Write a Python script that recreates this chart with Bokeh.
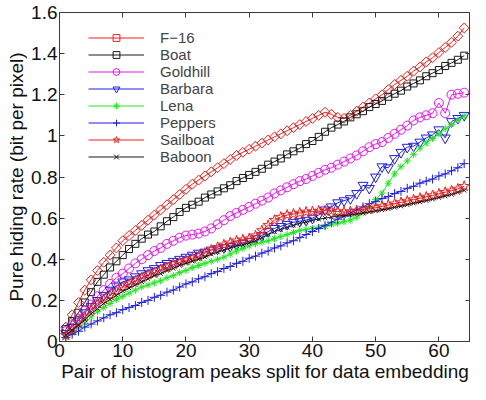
from bokeh.plotting import figure
from bokeh.models import Range1d, LinearAxis, FixedTicker, Legend, LegendItem, CustomJSTickFormatter
from bokeh.embed import file_html
from bokeh.resources import INLINE

# ---- data ----
pairs = list(range(1, 65))

f16 = [0.07, 0.13, 0.19, 0.25, 0.30, 0.345, 0.385, 0.42, 0.455, 0.49,
       0.515, 0.54, 0.565, 0.59, 0.615, 0.64, 0.665, 0.69, 0.715, 0.74,
       0.765, 0.785, 0.805, 0.825, 0.845, 0.865, 0.885, 0.905, 0.92, 0.935,
       0.95, 0.965, 0.98, 0.995, 1.01, 1.025, 1.04, 1.055, 1.07, 1.085,
       1.10, 1.115, 1.105, 1.09, 1.085, 1.10, 1.12, 1.14, 1.16, 1.18,
       1.20, 1.225, 1.25, 1.27, 1.29, 1.315, 1.335, 1.36, 1.38, 1.405,
       1.43, 1.455, 1.485, 1.525]
boat = [0.06, 0.10, 0.14, 0.19, 0.24, 0.29, 0.325, 0.36, 0.39, 0.42,
        0.45, 0.475, 0.50, 0.52, 0.535, 0.56, 0.585, 0.605, 0.63, 0.65,
        0.665, 0.68, 0.70, 0.715, 0.73, 0.745, 0.76, 0.78, 0.795, 0.81,
        0.825, 0.84, 0.86, 0.875, 0.89, 0.91, 0.925, 0.94, 0.96, 0.975,
        0.995, 1.02, 1.04, 1.055, 1.07, 1.09, 1.105, 1.12, 1.14, 1.155,
        1.17, 1.19, 1.205, 1.22, 1.24, 1.255, 1.27, 1.29, 1.305, 1.32,
        1.34, 1.355, 1.37, 1.39]
goldhill = [0.05, 0.08, 0.11, 0.15, 0.18, 0.22, 0.25, 0.28, 0.31, 0.33,
            0.355, 0.38, 0.40, 0.42, 0.44, 0.455, 0.475, 0.49, 0.505, 0.515,
            0.52, 0.525, 0.535, 0.55, 0.57, 0.59, 0.61, 0.625, 0.64, 0.655,
            0.67, 0.685, 0.70, 0.72, 0.735, 0.75, 0.765, 0.78, 0.79, 0.805,
            0.82, 0.835, 0.845, 0.86, 0.875, 0.89, 0.905, 0.925, 0.945, 0.96,
            0.97, 0.99, 1.01, 1.03, 1.05, 1.075, 1.09, 1.10, 1.11, 1.16,
            1.11, 1.20, 1.205, 1.21]
barbara = [0.04, 0.07, 0.10, 0.14, 0.17, 0.20, 0.225, 0.25, 0.27, 0.29,
           0.30, 0.315, 0.33, 0.345, 0.355, 0.37, 0.38, 0.39, 0.40, 0.41,
           0.42, 0.43, 0.435, 0.445, 0.45, 0.457, 0.463, 0.47, 0.478, 0.487,
           0.50, 0.515, 0.535, 0.55, 0.56, 0.57, 0.58, 0.585, 0.59, 0.60,
           0.615, 0.64, 0.655, 0.675, 0.685, 0.695, 0.72, 0.76, 0.745, 0.80,
           0.85, 0.845, 0.89, 0.92, 0.945, 0.95, 0.97, 0.99, 1.005, 1.03,
           0.99, 1.07, 1.085, 1.10]
lena = [0.02, 0.04, 0.065, 0.09, 0.12, 0.145, 0.165, 0.185, 0.205, 0.22,
        0.235, 0.25, 0.265, 0.275, 0.285, 0.295, 0.31, 0.32, 0.335, 0.345,
        0.36, 0.37, 0.38, 0.39, 0.40, 0.41, 0.425, 0.44, 0.452, 0.465,
        0.475, 0.483, 0.49, 0.50, 0.51, 0.52, 0.53, 0.54, 0.545, 0.55,
        0.555, 0.56, 0.57, 0.575, 0.582, 0.59, 0.605, 0.625, 0.655, 0.69,
        0.722, 0.77, 0.815, 0.85, 0.878, 0.91, 0.94, 0.965, 0.988, 1.01,
        1.035, 1.055, 1.077, 1.097]
peppers = [0.02, 0.035, 0.05, 0.07, 0.085, 0.10, 0.115, 0.13, 0.14, 0.155,
           0.165, 0.175, 0.19, 0.20, 0.215, 0.225, 0.24, 0.25, 0.265, 0.28,
           0.29, 0.305, 0.315, 0.33, 0.34, 0.355, 0.365, 0.38, 0.39, 0.405,
           0.415, 0.43, 0.44, 0.455, 0.465, 0.48, 0.49, 0.505, 0.52, 0.535,
           0.55, 0.565, 0.58, 0.595, 0.61, 0.625, 0.64, 0.655, 0.67, 0.68,
           0.695, 0.705, 0.72, 0.73, 0.745, 0.755, 0.77, 0.78, 0.79, 0.805,
           0.815, 0.83, 0.845, 0.865]
sailboat = [0.03, 0.06, 0.09, 0.12, 0.155, 0.185, 0.205, 0.225, 0.245, 0.265,
            0.28, 0.295, 0.31, 0.325, 0.335, 0.35, 0.36, 0.375, 0.385, 0.395,
            0.405, 0.415, 0.43, 0.445, 0.458, 0.47, 0.48, 0.49, 0.495, 0.50,
            0.515, 0.54, 0.565, 0.59, 0.605, 0.615, 0.62, 0.625, 0.63, 0.632,
            0.635, 0.636, 0.635, 0.632, 0.63, 0.632, 0.636, 0.64, 0.645, 0.65,
            0.657, 0.663, 0.67, 0.676, 0.683, 0.69, 0.697, 0.703, 0.71, 0.718,
            0.726, 0.733, 0.742, 0.755]
baboon = [0.03, 0.055, 0.08, 0.105, 0.135, 0.16, 0.185, 0.205, 0.225, 0.245,
          0.26, 0.275, 0.29, 0.305, 0.32, 0.33, 0.345, 0.355, 0.37, 0.38,
          0.39, 0.40, 0.41, 0.425, 0.435, 0.445, 0.455, 0.465, 0.47, 0.48,
          0.49, 0.505, 0.52, 0.535, 0.545, 0.555, 0.565, 0.575, 0.58, 0.59,
          0.595, 0.60, 0.605, 0.61, 0.612, 0.615, 0.62, 0.625, 0.63, 0.635,
          0.64, 0.645, 0.652, 0.658, 0.665, 0.672, 0.678, 0.685, 0.692, 0.70,
          0.707, 0.715, 0.725, 0.735]

names = ["F\u221216", "Boat", "Goldhill", "Barbara", "Lena", "Peppers", "Sailboat", "Baboon"]
values = [f16, boat, goldhill, barbara, lena, peppers, sailboat, baboon]

x_ticks = [0, 10, 20, 30, 40, 50, 60]
y_ticks = [0, 0.2, 0.4, 0.6, 0.8, 1.0, 1.2, 1.4, 1.6]
y_tick_labels = ["0", "0.2", "0.4", "0.6", "0.8", "1", "1.2", "1.4", "1.6"]

x_title = "Pair of histogram peaks split for data embedding"
y_title = "Pure hiding rate (bit per pixel)"

# ---- styles ----
RED = "#e8201e"
BLACK = "#1a1a1a"
MAG = "#e619e6"
BLUE = "#1f1fe0"
GREEN = "#1ee61e"
styles = [
    dict(color=RED, marker="square", size=7, angle=0.785398),
    dict(color=BLACK, marker="square", size=7, angle=0.0),
    dict(color=MAG, marker="circle", size=9, angle=0.0),
    dict(color=BLUE, marker="inverted_triangle", size=10, angle=0.0),
    dict(color=GREEN, marker="asterisk", size=7, angle=0.0),
    dict(color=BLUE, marker="cross", size=9, angle=0.0),
    dict(color=RED, marker="star", size=11, angle=0.0),
    dict(color=BLACK, marker="x", size=6, angle=0.0),
]

FONT = "Liberation Sans"
AX = "#3a3a3a"

p = figure(width=470, height=384, x_range=Range1d(0, 65), y_range=Range1d(0, 1.6),
           output_backend="svg", toolbar_location=None,
           min_border_left=59, min_border_right=0, min_border_top=12, min_border_bottom=0)
p.grid.visible = False
p.outline_line_color = AX
p.background_fill_color = "white"

xa = p.xaxis[0]
xa.ticker = FixedTicker(ticks=x_ticks)
ya = p.yaxis[0]
ya.ticker = FixedTicker(ticks=y_ticks)
ya.major_label_overrides = dict(zip(y_ticks, y_tick_labels))
xa.axis_label = x_title
ya.axis_label = y_title
for ax in (xa, ya):
    ax.major_tick_in = 5
    ax.major_tick_out = 0
    ax.minor_tick_line_color = None
    ax.axis_line_color = AX
    ax.major_tick_line_color = AX
    ax.major_label_text_font = FONT
    ax.major_label_text_font_size = "19px"
    ax.major_label_text_color = "#111111"
    ax.axis_label_text_font = FONT
    ax.axis_label_text_font_size = "19px"
    ax.axis_label_text_font_style = "normal"
    ax.axis_label_text_color = "#111111"
    ax.major_label_standoff = 2
    ax.axis_label_standoff = 1

blank = CustomJSTickFormatter(code="return ''")
top = LinearAxis(ticker=FixedTicker(ticks=x_ticks), formatter=blank,
                 major_tick_in=5, major_tick_out=0, minor_tick_line_color=None,
                 axis_line_color=AX, major_tick_line_color=AX, major_label_standoff=0,
                 major_label_text_font_size="1px")
right = LinearAxis(ticker=FixedTicker(ticks=y_ticks), formatter=blank,
                   major_tick_in=5, major_tick_out=0, minor_tick_line_color=None,
                   axis_line_color=AX, major_tick_line_color=AX, major_label_standoff=0,
                   major_label_text_font_size="1px")
p.add_layout(top, "above")
p.add_layout(right, "right")

items = []
for name, vals, st in zip(names, values, styles):
    ln = p.line(pairs, vals, line_color=st["color"], line_width=1)
    sc = p.scatter(pairs, vals, marker=st["marker"], size=st["size"], angle=st["angle"],
                   line_color=st["color"], fill_color=None, line_width=1)
    items.append(LegendItem(label=name, renderers=[ln, sc]))

legend = Legend(items=items, location=(29, 176), border_line_color=None,
                background_fill_alpha=0.0,
                label_text_font=FONT, label_text_font_size="15px",
                label_height=17, glyph_height=17, glyph_width=56,
                label_standoff=16, spacing=0, padding=0, margin=0)
p.add_layout(legend)

open("out.html", "w").write(file_html(p, INLINE))
